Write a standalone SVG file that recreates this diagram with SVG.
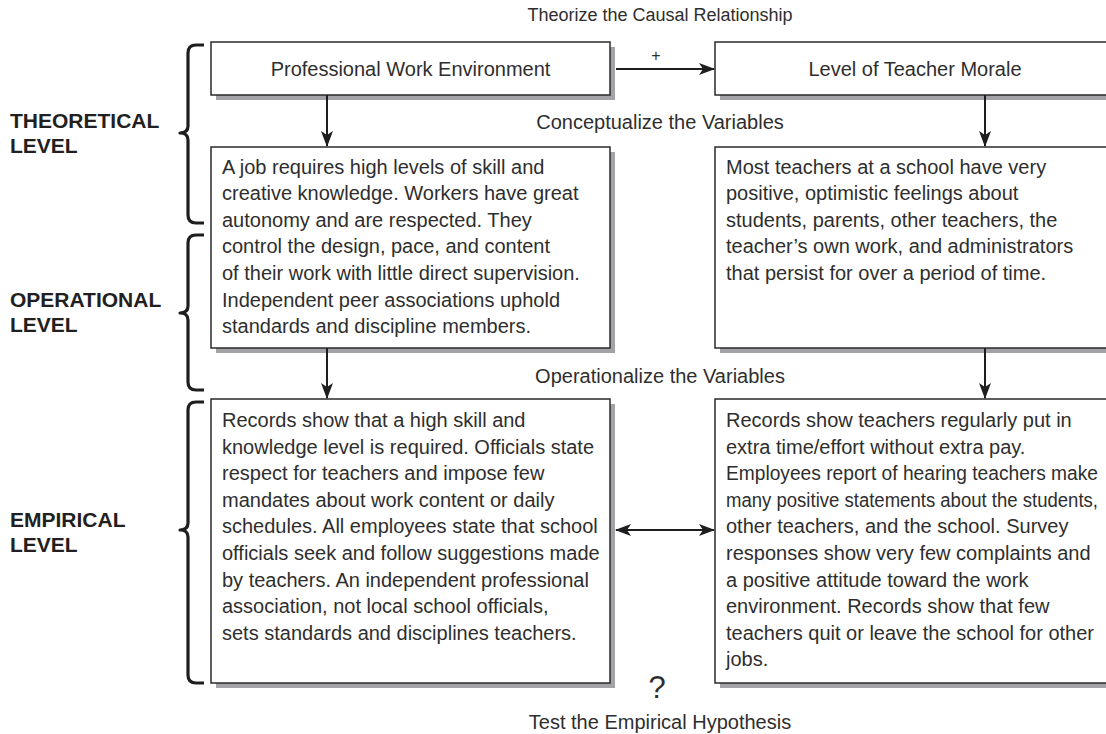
<svg xmlns="http://www.w3.org/2000/svg" width="1106" height="734" viewBox="0 0 1106 734">
<defs>
<style>
.box{fill:#fff;stroke:#2a2a2a;stroke-width:1.5}
.shadow{fill:#a2a2a7}
.t{font-family:"Liberation Sans",Arial,sans-serif;font-size:20px;fill:#2e2e2e}
.lbl{font-family:"Liberation Sans",Arial,sans-serif;fill:#2e2e2e}
.lvl{font-family:"Liberation Sans",Arial,sans-serif;font-size:21px;font-weight:bold;fill:#231f20}
.brace{fill:none;stroke:#1e1e1e;stroke-width:3.2;stroke-linejoin:round}
.conn{stroke:#1e1e1e;stroke-width:2;fill:none}
</style>
<marker id="ah" viewBox="0 0 16 12" refX="15" refY="6" markerWidth="16" markerHeight="12" markerUnits="userSpaceOnUse" orient="auto-start-reverse">
<path d="M0,0 L16,6 L0,12 L4,6 z" fill="#1e1e1e"/>
</marker>
</defs>
<rect width="1106" height="734" fill="#fff"/>

<text class="lbl" x="660" y="21" text-anchor="middle" style="font-size:18px">Theorize the Causal Relationship</text>
<text class="lbl" x="660" y="129" text-anchor="middle" style="font-size:20px">Conceptualize the Variables</text>
<text class="lbl" x="660" y="383" text-anchor="middle" style="font-size:20px">Operationalize the Variables</text>
<text class="lbl" x="657" y="698" text-anchor="middle" style="font-size:31px">?</text>
<text class="lbl" x="660" y="729" text-anchor="middle" style="font-size:20px">Test the Empirical Hypothesis</text>

<g id="levels">
<path class="brace" d="M204,45 H196 Q188,45 188,53 V126 Q188,133 180,133 Q188,133 188,140 V215 Q188,223 196,223 H204"/>
<path class="brace" d="M204,235 H196 Q188,235 188,243 V306 Q188,313 180,313 Q188,313 188,320 V382 Q188,390 196,390 H204"/>
<path class="brace" d="M204,402 H196 Q188,402 188,410 V523 Q188,530 180,530 Q188,530 188,537 V675 Q188,683 196,683 H204"/>
<text class="lvl" x="10" y="128">THEORETICAL</text>
<text class="lvl" x="10" y="153">LEVEL</text>
<text class="lvl" x="10" y="307">OPERATIONAL</text>
<text class="lvl" x="10" y="332">LEVEL</text>
<text class="lvl" x="10" y="527">EMPIRICAL</text>
<text class="lvl" x="10" y="552">LEVEL</text>
</g>

<g id="work-env">
<rect class="shadow" x="216" y="47" width="399" height="53"/>
<rect class="box" x="211" y="42" width="399" height="53"/>
<text class="t" x="410.5" y="76" text-anchor="middle">Professional Work Environment</text>
</g>

<g id="teacher-morale">
<rect class="shadow" x="720" y="47" width="400" height="53"/>
<rect class="box" x="715" y="42" width="400" height="53"/>
<text class="t" x="915" y="76" text-anchor="middle">Level of Teacher Morale</text>
</g>

<g id="work-env-concept">
<rect class="shadow" x="216" y="152" width="399" height="201"/>
<rect class="box" x="211" y="147" width="399" height="201"/>
<text class="t" x="222" y="173.5">A job requires high levels of skill and</text>
<text class="t" x="222" y="200.1">creative knowledge. Workers have great</text>
<text class="t" x="222" y="226.7">autonomy and are respected. They</text>
<text class="t" x="222" y="253.3">control the design, pace, and content</text>
<text class="t" x="222" y="279.9">of their work with little direct supervision.</text>
<text class="t" x="222" y="306.5">Independent peer associations uphold</text>
<text class="t" x="222" y="333.1">standards and discipline members.</text>
</g>

<g id="morale-concept">
<rect class="shadow" x="720" y="152" width="400" height="201"/>
<rect class="box" x="715" y="147" width="400" height="201"/>
<text class="t" x="726" y="173.5">Most teachers at a school have very</text>
<text class="t" x="726" y="200.1">positive, optimistic feelings about</text>
<text class="t" x="726" y="226.7">students, parents, other teachers, the</text>
<text class="t" x="726" y="253.3">teacher’s own work, and administrators</text>
<text class="t" x="726" y="279.9">that persist for over a period of time.</text>
</g>

<g id="work-env-empirical">
<rect class="shadow" x="216" y="404" width="399" height="284"/>
<rect class="box" x="211" y="399" width="399" height="284"/>
<text class="t" x="222" y="427">Records show that a high skill and</text>
<text class="t" x="222" y="453.6">knowledge level is required. Officials state</text>
<text class="t" x="222" y="480.2">respect for teachers and impose few</text>
<text class="t" x="222" y="506.8">mandates about work content or daily</text>
<text class="t" x="222" y="533.4">schedules. All employees state that school</text>
<text class="t" x="222" y="560">officials seek and follow suggestions made</text>
<text class="t" x="222" y="586.6">by teachers. An independent professional</text>
<text class="t" x="222" y="613.2">association, not local school officials,</text>
<text class="t" x="222" y="639.8">sets standards and disciplines teachers.</text>
</g>

<g id="morale-empirical">
<rect class="shadow" x="720" y="404" width="400" height="284"/>
<rect class="box" x="715" y="399" width="400" height="284"/>
<text class="t" x="726" y="427">Records show teachers regularly put in</text>
<text class="t" x="726" y="453.6">extra time/effort without extra pay.</text>
<text class="t" x="726" y="480.2" textLength="372" lengthAdjust="spacingAndGlyphs">Employees report of hearing teachers make</text>
<text class="t" x="726" y="506.8" textLength="372" lengthAdjust="spacingAndGlyphs">many positive statements about the students,</text>
<text class="t" x="726" y="533.4">other teachers, and the school. Survey</text>
<text class="t" x="726" y="560">responses show very few complaints and</text>
<text class="t" x="726" y="586.6">a positive attitude toward the work</text>
<text class="t" x="726" y="613.2">environment. Records show that few</text>
<text class="t" x="726" y="639.8">teachers quit or leave the school for other</text>
<text class="t" x="726" y="666.4">jobs.</text>
</g>

<g id="connectors">
<line class="conn" x1="616" y1="69" x2="714" y2="69" marker-end="url(#ah)"/>
<text class="lbl" x="656" y="61" text-anchor="middle" style="font-size:16px">+</text>
<line class="conn" x1="327" y1="95" x2="327" y2="146" marker-end="url(#ah)"/>
<line class="conn" x1="985" y1="95" x2="985" y2="146" marker-end="url(#ah)"/>
<line class="conn" x1="327" y1="348" x2="327" y2="398" marker-end="url(#ah)"/>
<line class="conn" x1="985" y1="348" x2="985" y2="398" marker-end="url(#ah)"/>
<line class="conn" x1="616" y1="530" x2="714" y2="530" marker-start="url(#ah)" marker-end="url(#ah)"/>
</g>
</svg>
